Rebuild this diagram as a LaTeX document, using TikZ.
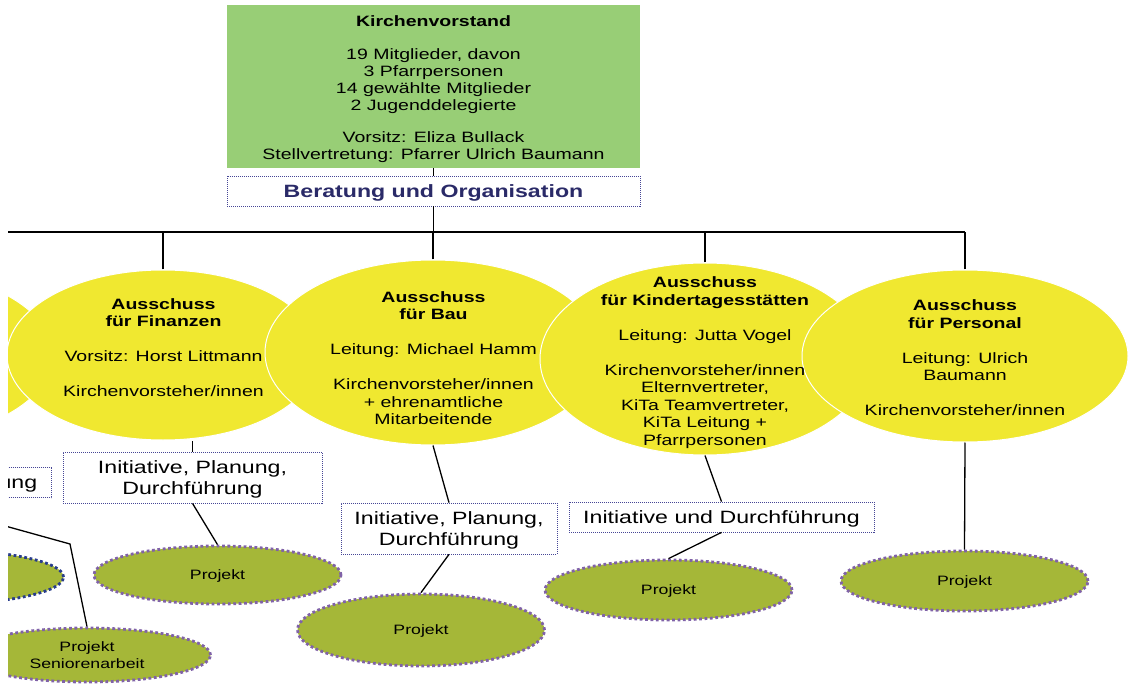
\documentclass[tikz,border=0pt]{standalone}
\usepackage{fontspec}
\setmainfont{Liberation Sans}[FakeStretch=1.3]
\usetikzlibrary{shapes, positioning, calc}

\definecolor{kvgruen}{RGB}{152,206,118}
\definecolor{ausgelb}{RGB}{240,232,48}
\definecolor{projoliv}{RGB}{165,183,56}
\definecolor{projlila}{RGB}{128,98,168}
\definecolor{boxblau}{RGB}{70,70,150}
\definecolor{beratblau}{RGB}{42,42,104}
\definecolor{altblau}{RGB}{40,60,140}

\begin{document}
\begin{tikzpicture}[x=1pt, y=-1pt,
	ausschuss/.style={ellipse, fill=ausgelb, draw=white, line width=1pt, inner sep=0pt},
	atext/.style={align=center, inner sep=0pt, font=\fontsize{15}{17.5}\selectfont},
	aufgabe/.style={rectangle, fill=white, draw=boxblau, line width=0.8pt,
		dash pattern=on 1pt off 1pt, align=center, inner sep=0pt, text depth=0pt,
		font=\fontsize{17.8}{21}\selectfont},
	projekt/.style={ellipse, fill=projoliv, draw=projlila, line width=2.8pt,
		dash pattern=on 2.8pt off 2.6pt, align=center, inner sep=0pt, text depth=0pt,
		minimum width=247pt, font=\fontsize{13.6}{17}\selectfont},
	linie/.style={line width=1.3pt}]

\useasboundingbox (0,0) rectangle (1134,684);
\clip (8,0) rectangle (1134,684);

% Kirchenvorstand
\node[fill=kvgruen, minimum width=413pt, minimum height=163pt] (vorstand) at (433.5,86.5) {};
\node[align=center, inner sep=0pt, font=\fontsize{15}{17}\selectfont] (vorstand-t) at (433.5,89.5)
	{\textbf{Kirchenvorstand}\\[16pt]
	19 Mitglieder, davon\\3 Pfarrpersonen\\14 gewählte Mitglieder\\2 Jugenddelegierte\\[15pt]
	Vorsitz: Eliza Bullack\\Stellvertretung: Pfarrer Ulrich Baumann};
\node[aufgabe, minimum width=413pt, minimum height=30pt, text=beratblau,
	font=\bfseries\fontsize{17.8}{21}\selectfont] (beratung) at (433.5,191)
	{Beratung und Organisation};
\coordinate (bus) at (433.5,232);
\coordinate (busl) at (0,232);
\coordinate (busr) at (965,232);

% Ausschuesse
\node[ausschuss, minimum width=320pt, minimum height=170pt] (links) at (-107,355) {};
\node[ausschuss, minimum width=312pt, minimum height=170pt] (fin) at (163,355) {};
\node[ausschuss, minimum width=336pt, minimum height=185pt] (bau) at (433,352.5) {};
\node[ausschuss, minimum width=330pt, minimum height=192pt] (kita) at (705,359) {};
\node[ausschuss, minimum width=326pt, minimum height=172pt] (pers) at (965,356) {};

\node[atext] (fin-t) at (163.5,347.5)
	{\textbf{Ausschuss}\\\textbf{für Finanzen}\\[17.5pt]
	Vorsitz: Horst Littmann\\[17.5pt]Kirchenvorsteher/innen};
\node[atext] (bau-t) at (433.5,358)
	{\textbf{Ausschuss}\\\textbf{für Bau}\\[17.5pt]
	Leitung: Michael Hamm\\[17.5pt]Kirchenvorsteher/innen\\+ ehrenamtliche\\Mitarbeitende};
\node[atext] (kita-t) at (705,362.5)
	{\textbf{Ausschuss}\\\textbf{für Kindertagesstätten}\\[17.5pt]
	Leitung: Jutta Vogel\\[17.5pt]Kirchenvorsteher/innen\\Elternvertreter,\\
	KiTa Teamvertreter,\\KiTa Leitung +\\Pfarrpersonen};
\node[atext] (pers-t) at (965,358)
	{\textbf{Ausschuss}\\\textbf{für Personal}\\[17.5pt]
	Leitung: Ulrich\\Baumann\\[17.5pt]Kirchenvorsteher/innen};

% Aufgaben
\node[aufgabe, minimum width=305pt, minimum height=30pt] (links-a) at (-101,482.5)
	{Initiative und Durchführung};
\node[aufgabe, minimum width=259pt, minimum height=51pt] (fin-a) at (192.5,477.5)
	{Initiative, Planung,\\Durchführung};
\node[aufgabe, minimum width=216pt, minimum height=51pt] (bau-a) at (449,528.5)
	{Initiative, Planung,\\Durchführung};
\node[aufgabe, minimum width=305pt, minimum height=30pt] (kita-a) at (721.5,517)
	{Initiative und Durchführung};

% Projekte
\node[projekt, draw=altblau, minimum height=54pt] (links-p) at (-60,577) {};
\node[projekt, minimum height=58pt] (fin-p) at (217.5,575) {Projekt};
\node[projekt, minimum height=72pt] (bau-p) at (421,630) {Projekt};
\node[projekt, minimum height=60pt] (kita-p) at (668.5,590) {Projekt};
\node[projekt, minimum height=60pt] (pers-p) at (964.5,581) {Projekt};
\node[projekt, minimum height=54pt] (senior-p) at (87,655) {Projekt\\Seniorenarbeit};
\coordinate (senior-a) at (-20,519);
\coordinate (senior-k) at (70,544);

% Linien
\draw[linie] (vorstand.south) -- (beratung.north);
\draw[linie] (beratung.south) -- (bus);
\draw[linie] (busl) -- (busr);
\draw[linie] (fin.north) -- (fin.north |- bus);
\draw[linie] (bau.north) -- (bau.north |- bus);
\draw[linie] (kita.north) -- (kita.north |- bus);
\draw[linie] (pers.north) -- (pers.north |- bus);
\draw[linie] (fin-a.north) -- (fin-a.north |- fin.south);
\draw[linie] (fin-a.south) -- (fin-p.north);
\draw[linie] (bau.south) -- (bau-a.north);
\draw[linie] (bau-a.south) -- (bau-p.north);
\draw[linie] (kita.south) -- (kita-a.north);
\draw[linie] (kita-a.south) -- (kita-p.north);
\draw[linie] (pers.south) -- (pers-p.north);
\draw[linie] (senior-a) -- (senior-k) -- (senior-p.north);
\end{tikzpicture}
\end{document}
